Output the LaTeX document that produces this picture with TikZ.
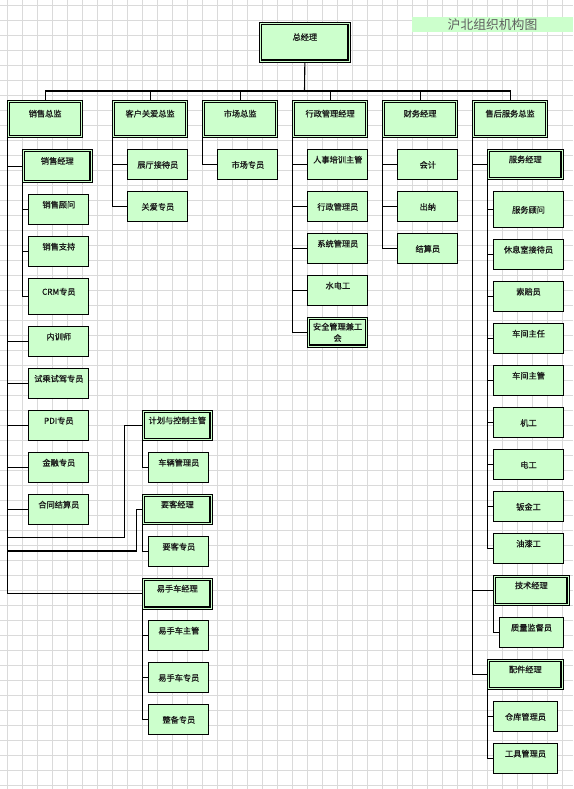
\documentclass[tikz,border=0pt]{standalone}
\usepackage{fontspec}
\setmainfont{Noto Sans CJK SC}
\newfontfamily\boxfont{Noto Sans CJK SC}[FakeBold=0.8]
\usepackage{tikz}
\usetikzlibrary{positioning}
\definecolor{boxgreen}{RGB}{204,255,204}
\definecolor{gridgray}{RGB}{218,218,218}
\definecolor{titlegray}{RGB}{95,95,95}
\tikzset{
    box/.style={
        rectangle,
        draw=black,
        fill=boxgreen,
        line width=1.1pt,
        anchor=north west,
        minimum width=60pt,
        minimum height=30pt,
        inner sep=0pt,
        text=black!90,
        font=\boxfont\fontsize{8.2}{11.3}\selectfont
    },
    mgr/.style={
        box,
        line width=0.6pt,
        path picture={
            \draw[line width=1.3pt]
                ([shift={(2pt,-2pt)}]path picture bounding box.north west) rectangle
                ([shift={(-2pt,2pt)}]path picture bounding box.south east);
        }
    },
    up/.style={text depth=11pt},
    heading/.style={
        rectangle,
        fill=boxgreen,
        minimum width=161pt,
        minimum height=15pt,
        inner sep=0pt,
        text=titlegray,
        font=\fontsize{12.8}{14}\selectfont
    },
    ln/.style={draw=black,line width=1.1pt},
    gridline/.style={gridgray,line width=0.7pt}
}

\begin{document}
\begin{tikzpicture}[x=1pt,y=-1pt]
\useasboundingbox (0,0) rectangle (573,789);
\fill[white] (0,0) rectangle (573,789);
% sheet grid
\foreach \i in {0,...,37} \draw[gridline] (7.3+15*\i,0) -- (7.3+15*\i,789);
\foreach \j in {0,...,52} \draw[gridline] (0,5+15*\j) -- (573,5+15*\j);

\node[heading] (title) at (492.5,24.8) {沪北组织机构图};

\node[mgr,up,minimum width=90.5pt,minimum height=39.4pt] (zjl) at (259.3,22.3) {总经理};
\coordinate (bus) at (304.5,91);

\node[mgr,up,minimum width=75pt,minimum height=37pt] (xszj) at (7.3,100) {销售总监};
\node[mgr,up,minimum width=75pt,minimum height=37pt] (khza) at (112.3,100) {客户关爱总监};
\node[mgr,up,minimum width=75pt,minimum height=37pt] (sczj) at (202.3,100) {市场总监};
\node[mgr,up,minimum width=75pt,minimum height=37pt] (xzjl) at (292.3,100) {行政管理经理};
\node[mgr,up,minimum width=75pt,minimum height=37pt] (cwjl) at (382.3,100) {财务经理};
\node[mgr,up,minimum width=75pt,minimum height=37pt] (shzj) at (472.3,100) {售后服务总监};

% sales
\node[mgr,up,minimum width=69.4pt,minimum height=33pt] (xsjl) at (22.3,149.3) {销售经理};
\node[box,up] (xsgw) at (28.3,194.3) {销售顾问};
\node[box,up] (xszc) at (28.3,236.3) {销售支持};
\node[box,up,minimum height=36pt] (crm) at (28.3,278.3) {CRM专员};
\node[box,up] (nxs) at (28.3,326.3) {内训师};
\node[box,up] (scsj) at (28.3,368.3) {试乘试驾专员};
\node[box,up] (pdi) at (28.3,410.3) {PDI专员};
\node[box,up] (jrzy) at (28.3,452.3) {金融专员};
\node[box,up] (htjs) at (28.3,494.3) {合同结算员};

\node[mgr,up,minimum width=69.4pt] (jhzg) at (142.3,410.3) {计划与控制主管};
\node[box,up] (clgl) at (148.3,452.3) {车辆管理员};
\node[mgr,up,minimum width=69.4pt] (ykjl) at (142.3,494.3) {要客经理};
\node[box,up] (ykzy) at (148.3,536.3) {要客专员};
\node[mgr,up,minimum width=69.4pt,minimum height=30.4pt] (yscjl) at (142.3,578.3) {易手车经理};
\node[box,up] (yscz) at (148.3,620.3) {易手车主管};
\node[box] (yscy) at (148.3,662.3) {易手车专员};
\node[box] (zbzy) at (148.3,704.3) {整备专员};
\coordinate (jk) at (124.3,537.3);
\coordinate (yk) at (136.3,551);

% customer care, market
\node[box] (ztjd) at (127.3,149.3) {展厅接待员};
\node[box] (gazy) at (127.3,191.3) {关爱专员};
\node[box] (sczy) at (217.3,149.3) {市场专员};

% admin
\node[box,up] (rspx) at (307.3,149.3) {人事培训主管};
\node[box] (xzgl) at (307.3,191.3) {行政管理员};
\node[box,up] (xtgl) at (307.3,233.3) {系统管理员};
\node[box,up] (sdg) at (307.3,275.3) {水电工};
\node[mgr,align=center,minimum height=29.4pt] (aqgl) at (307.3,317.3) {安全管理兼工\\会};

% finance
\node[box] (kj) at (397.3,149.3) {会计};
\node[box] (cn) at (397.3,191.3) {出纳};
\node[box] (jsy) at (397.3,233.3) {结算员};

% after sales
\node[mgr,up,minimum width=75.4pt] (fwjl) at (487.3,149.3) {服务经理};
\node[box,minimum width=69.4pt,minimum height=36pt] (fwgw) at (493.3,191.3) {服务顾问};
\node[box,up,minimum width=69.4pt] (xxs) at (493.3,239.3) {休息室接待员};
\node[box,up,minimum width=69.4pt] (spy) at (493.3,281.3) {索赔员};
\node[box,up,minimum width=69.4pt] (cjzr) at (493.3,323.3) {车间主任};
\node[box,up,minimum width=69.4pt] (cjzg) at (493.3,365.3) {车间主管};
\node[box,minimum width=69.4pt] (jg) at (493.3,407.3) {机工};
\node[box,minimum width=69.4pt] (dg) at (493.3,449.3) {电工};
\node[box,minimum width=69.4pt] (bjg) at (493.3,491.3) {钣金工};
\node[box,up,minimum width=69.4pt] (yqg) at (493.3,533.3) {油漆工};
\node[mgr,up,minimum width=75.4pt] (jsjl) at (493.3,575.3) {技术经理};
\node[box,up,minimum width=63.4pt] (zljd) at (499.3,617.3) {质量监督员};
\node[mgr,up,minimum width=75.4pt] (pjjl) at (487.3,659.3) {配件经理};
\node[box,minimum width=63.4pt] (ckgl) at (493.3,701.3) {仓库管理员};
\node[box,up,minimum width=63.4pt] (gjgl) at (493.3,743.3) {工具管理员};

% top level
\draw[ln] (zjl.south) -- (bus);
\draw[ln] (bus) -| (xszj.north);
\draw[ln] (bus) -| (khza.north);
\draw[ln] (bus) -| (sczj.north);
\draw[ln] (bus) -| (xzjl.north);
\draw[ln] (bus) -| (cwjl.north);
\draw[ln] (bus) -| (shzj.north);

\draw[ln] (xszj.south west) |- (xsjl.west);
\draw[ln] (xszj.south west) |- (nxs.west);
\draw[ln] (xszj.south west) |- (scsj.west);
\draw[ln] (xszj.south west) |- (pdi.west);
\draw[ln] (xszj.south west) |- (jrzy.west);
\draw[ln] (xszj.south west) |- (htjs.west);
\draw[ln] (xszj.south west) |- (jk) |- (jhzg.west);
\draw[ln] (xszj.south west) |- (yk) |- (ykjl.west);
\draw[ln] (xszj.south west) |- (yscjl.west);
\draw[ln] (xsjl.south west) |- (xsgw.west);
\draw[ln] (xsjl.south west) |- (xszc.west);
\draw[ln] (xsjl.south west) |- (crm.west);
\draw[ln] (jhzg.south west) |- (clgl.west);
\draw[ln] (ykjl.south west) |- (ykzy.west);
\draw[ln] (yscjl.south west) |- (yscz.west);
\draw[ln] (yscjl.south west) |- (yscy.west);
\draw[ln] (yscjl.south west) |- (zbzy.west);

\draw[ln] (khza.south west) |- (ztjd.west);
\draw[ln] (khza.south west) |- (gazy.west);
\draw[ln] (sczj.south west) |- (sczy.west);

\draw[ln] (xzjl.south west) |- (rspx.west);
\draw[ln] (xzjl.south west) |- (xzgl.west);
\draw[ln] (xzjl.south west) |- (xtgl.west);
\draw[ln] (xzjl.south west) |- (sdg.west);
\draw[ln] (xzjl.south west) |- (aqgl.west);

\draw[ln] (cwjl.south west) |- (kj.west);
\draw[ln] (cwjl.south west) |- (cn.west);
\draw[ln] (cwjl.south west) |- (jsy.west);

\draw[ln] (shzj.south west) |- (fwjl.west);
\draw[ln] (shzj.south west) |- (jsjl.west);
\draw[ln] (shzj.south west) |- (pjjl.west);
\draw[ln] (fwjl.south west) |- (fwgw.west);
\draw[ln] (fwjl.south west) |- (xxs.west);
\draw[ln] (fwjl.south west) |- (spy.west);
\draw[ln] (fwjl.south west) |- (cjzr.west);
\draw[ln] (fwjl.south west) |- (cjzg.west);
\draw[ln] (fwjl.south west) |- (jg.west);
\draw[ln] (fwjl.south west) |- (dg.west);
\draw[ln] (fwjl.south west) |- (bjg.west);
\draw[ln] (fwjl.south west) |- (yqg.west);
\draw[ln] (jsjl.south west) |- (zljd.west);
\draw[ln] (pjjl.south west) |- (ckgl.west);
\draw[ln] (pjjl.south west) |- (gjgl.west);
\end{tikzpicture}
\end{document}
